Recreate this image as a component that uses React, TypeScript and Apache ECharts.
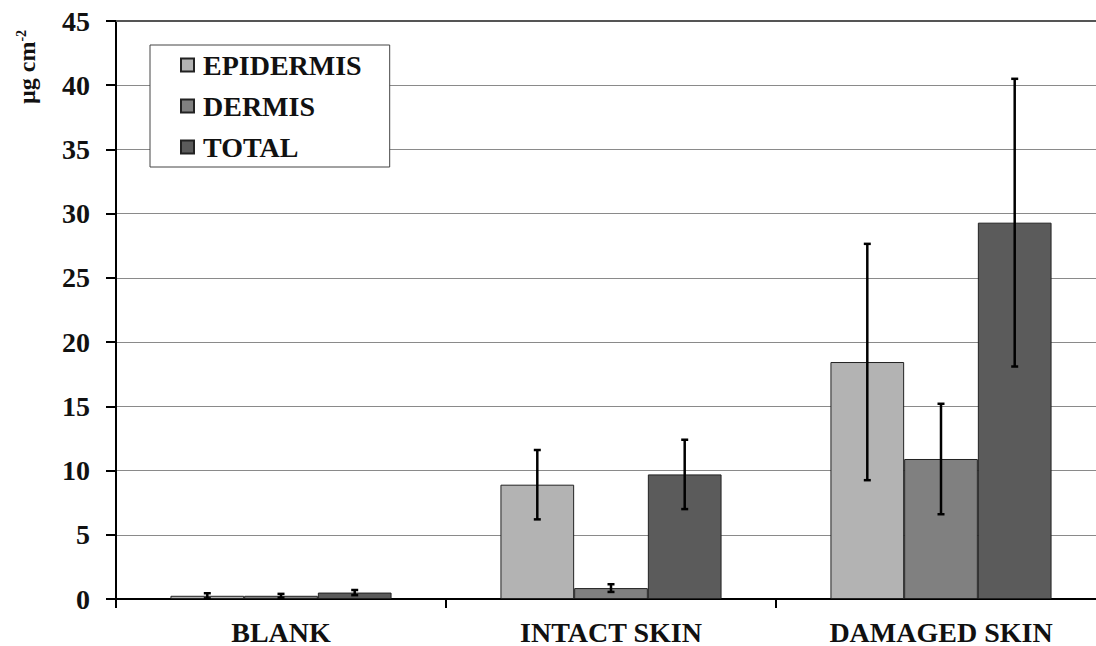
import React, { useEffect, useRef } from "react";
import * as echarts from "echarts";

// Categories and measured amounts (µg cm-2) with their error half-widths
const categories = ["BLANK", "INTACT SKIN", "DAMAGED SKIN"];
const seriesNames = ["EPIDERMIS", "DERMIS", "TOTAL"];
const epidermis = [0.25, 8.9, 18.45];
const dermis = [0.25, 0.85, 10.9];
const total = [0.5, 9.7, 29.3];
const epidermisErr = [0.2, 2.7, 9.2];
const dermisErr = [0.15, 0.3, 4.3];
const totalErr = [0.2, 2.7, 11.2];
const yTicks = { min: 0, max: 45, interval: 5 };

const FONT = "'Liberation Serif', 'Times New Roman', serif";
const COLORS = ["#b3b3b3", "#808080", "#5b5b5b"];
const CATEGORY_GAP = 0.33;

export default function App() {
  const ref = useRef<HTMLDivElement>(null);

  useEffect(() => {
    document.body.style.margin = "0";
    if (!ref.current) return;
    const chart = echarts.init(ref.current, undefined, { renderer: "svg" });

    const values = [epidermis, dermis, total];
    const errors = [epidermisErr, dermisErr, totalErr];

    const errData: number[][] = [];
    values.forEach((vals, s) => {
      vals.forEach((v, i) => {
        errData.push([i, v - errors[s][i], v + errors[s][i], s]);
      });
    });

    const barSeries = seriesNames.map((name, s) => ({
      name,
      type: "bar",
      data: values[s],
      barGap: "0%",
      barCategoryGap: `${CATEGORY_GAP * 100}%`,
      itemStyle: { color: COLORS[s], borderColor: "#222", borderWidth: 1 },
      z: 2,
    }));

    const option: any = {
      animation: false,
      backgroundColor: "#fff",
      grid: { left: 116, top: 21, bottom: 47, width: 990, outerBoundsMode: "none" },
      legend: {
        data: seriesNames,
        orient: "vertical",
        left: 150,
        top: 45,
        padding: [6, 28, 6, 30],
        itemGap: 13,
        itemWidth: 13,
        itemHeight: 13,
        backgroundColor: "#fff",
        borderColor: "#444",
        borderWidth: 1,
        icon: "rect",
        textStyle: {
          fontFamily: FONT,
          fontWeight: "bold",
          fontSize: 28,
          lineHeight: 28,
          color: "#111",
          padding: [0, 0, 0, 4],
        },
      },
      xAxis: [
        {
          type: "category",
          data: categories,
          axisLine: { show: true, lineStyle: { color: "#000", width: 2 } },
          axisTick: { show: true, length: 9, lineStyle: { color: "#000", width: 2 } },
          axisLabel: {
            fontFamily: FONT,
            fontWeight: "bold",
            fontSize: 28,
            lineHeight: 24,
            color: "#111",
            margin: 21,
          },
        },
        {
          type: "category",
          data: categories,
          position: "top",
          axisLine: { show: true, lineStyle: { color: "#555", width: 2 } },
          axisTick: { show: false },
          axisLabel: { show: false },
        },
      ],
      yAxis: {
        type: "value",
        min: yTicks.min,
        max: yTicks.max,
        interval: yTicks.interval,
        axisLine: { show: true, lineStyle: { color: "#000", width: 2 } },
        axisTick: { show: true, length: 10, lineStyle: { color: "#000", width: 2 } },
        splitLine: { show: true, lineStyle: { color: "#8a8a8a", width: 1 } },
        axisLabel: {
          fontFamily: FONT,
          fontWeight: "bold",
          fontSize: 28,
          color: "#111",
          margin: 26,
        },
      },
      graphic: [
        {
          type: "text",
          x: 27,
          y: 67,
          rotation: Math.PI / 2,
          style: {
            text: "{b|µg cm}{s|-2}",
            fontFamily: FONT,
            fontWeight: "bold",
            fontSize: 24,
            fill: "#111",
            align: "center",
            verticalAlign: "middle",
            rich: {
              b: { fontFamily: FONT, fontWeight: "bold", fontSize: 24, fill: "#111" },
              s: {
                fontFamily: FONT,
                fontWeight: "bold",
                fontSize: 14,
                fill: "#111",
                padding: [0, 0, 12, 0],
              },
            },
          },
        },
      ],
      series: [
        ...barSeries,
        {
          type: "custom",
          name: "errors",
          data: errData,
          encode: { x: 0, y: [1, 2] },
          z: 5,
          renderItem: (params: any, api: any) => {
            const cat = api.value(0);
            const lo = api.value(1);
            const hi = api.value(2);
            const s = api.value(3);
            const band = api.size([1, 0])[0];
            const barW = (band * (1 - CATEGORY_GAP)) / 3;
            const pLo = api.coord([cat, lo]);
            const pHi = api.coord([cat, hi]);
            const x = pLo[0] + (s - 1) * barW;
            const cap = 3.5;
            const style = { stroke: "#000", lineWidth: 2.5 };
            return {
              type: "group",
              children: [
                { type: "line", shape: { x1: x, y1: pLo[1], x2: x, y2: pHi[1] }, style },
                { type: "line", shape: { x1: x - cap, y1: pHi[1], x2: x + cap, y2: pHi[1] }, style },
                { type: "line", shape: { x1: x - cap, y1: pLo[1], x2: x + cap, y2: pLo[1] }, style },
              ],
            };
          },
        },
      ],
    };

    chart.setOption(option);
    return () => chart.dispose();
  }, []);

  return <div ref={ref} style={{ width: 1096, height: 646 }} />;
}
